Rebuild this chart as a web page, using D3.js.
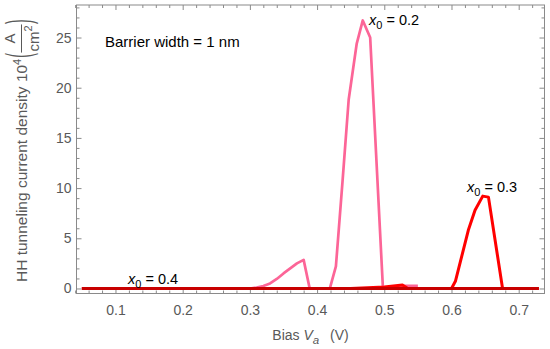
<!DOCTYPE html>
<html>
<head>
<meta charset="utf-8">
<script src="https://cdn.jsdelivr.net/npm/d3@7"></script>
<style>
	body { margin: 0; background: #fff; }
	svg { font-family: 'Liberation Sans', Arial, sans-serif; }
</style>
</head>
<body>
<div id="chart"></div>
<script>
// x0 = 0.2 (pink)
const biasX02 = [0.05, 0.30, 0.31, 0.32, 0.33, 0.34, 0.35, 0.36, 0.37, 0.38, 0.389, 0.419, 0.428, 0.438, 0.447, 0.459, 0.468, 0.479, 0.498, 0.52, 0.53, 0.55]
const currentX02 = [0, 0, 0.1, 0.25, 0.5, 0.95, 1.5, 2.0, 2.5, 2.85, 0, 0, 2.2, 10.8, 18.8, 24.4, 26.7, 25.0, 0, 0.1, 0.25, 0.25]

// x0 = 0.3 (red)
const biasX03 = [0.05, 0.45, 0.50, 0.527, 0.535, 0.60, 0.606, 0.625, 0.635, 0.6465, 0.655, 0.676, 0.73]
const currentX03 = [0, 0, 0.15, 0.35, 0, 0, 0.75, 5.8, 7.8, 9.2, 9.1, 0, 0]

// x0 = 0.4 (dark red)
const biasX04 = [0.05, 0.2, 0.4, 0.6, 0.73]
const currentX04 = [0, 0, 0, 0, 0]

const xTicks = [0.1, 0.2, 0.3, 0.4, 0.5, 0.6, 0.7]
const yTicks = [0, 5, 10, 15, 20, 25]

const series = [
	{ name: '0.2', bias: biasX02, current: currentX02, color: '#fc6597', width: 2.7, label: [369, 25] },
	{ name: '0.3', bias: biasX03, current: currentX03, color: '#ff0000', width: 3, label: [467, 192] },
	{ name: '0.4', bias: biasX04, current: currentX04, color: '#c80000', width: 3, label: [128, 284] },
]

const width = 550
const height = 349
const frame = { left: 76.5, right: 544.5, top: 5, bottom: 293.5 }
const frameColor = '#8a8a8a'
const labelColor = '#595959'

const x = d3.scaleLinear().domain([0.042, 0.7384]).range([frame.left, frame.right])
const y = d3.scaleLinear().domain([-0.5, 28.24]).range([frame.bottom, frame.top])

const xMinor = d3.range(0.04, 0.74, 0.02).filter(v => xTicks.every(t => Math.abs(t - v) > 1e-6))
const yMinor = d3.range(1, 29, 1).filter(v => v % 5 !== 0)

const svg = d3.select('#chart')
	.append('svg')
	.attr('width', width)
	.attr('height', height)

// frame ticks, inward, all four sides
function drawAxis(axis, transform, cls) {
	const g = svg.append('g')
		.attr('class', cls)
		.attr('transform', transform)
		.call(axis)
	g.select('.domain').remove()
	g.selectAll('.tick line').attr('stroke', frameColor)
	g.selectAll('.tick text').attr('fill', labelColor).style('font-size', '14px')
	return g
}

drawAxis(d3.axisBottom(x).tickValues(xTicks).tickSize(-5).tickPadding(11.5).tickFormat(d3.format('.1f')),
	`translate(0,${frame.bottom})`, 'x-axis')
drawAxis(d3.axisBottom(x).tickValues(xMinor).tickSize(-3).tickFormat(''),
	`translate(0,${frame.bottom})`, 'x-minor')
drawAxis(d3.axisTop(x).tickValues(xTicks).tickSize(-5).tickFormat(''),
	`translate(0,${frame.top})`, 'x-top')
drawAxis(d3.axisTop(x).tickValues(xMinor).tickSize(-3).tickFormat(''),
	`translate(0,${frame.top})`, 'x-top-minor')

drawAxis(d3.axisLeft(y).tickValues(yTicks).tickSize(-5).tickPadding(5),
	`translate(${frame.left},0)`, 'y-axis')
drawAxis(d3.axisLeft(y).tickValues(yMinor).tickSize(-3).tickFormat(''),
	`translate(${frame.left},0)`, 'y-minor')
drawAxis(d3.axisRight(y).tickValues(yTicks).tickSize(-5).tickFormat(''),
	`translate(${frame.right},0)`, 'y-right')
drawAxis(d3.axisRight(y).tickValues(yMinor).tickSize(-3).tickFormat(''),
	`translate(${frame.right},0)`, 'y-right-minor')

svg.append('rect')
	.attr('x', frame.left)
	.attr('y', frame.top)
	.attr('width', frame.right - frame.left)
	.attr('height', frame.bottom - frame.top)
	.attr('fill', 'none')
	.attr('stroke', frameColor)

// curves
const line = d3.line()
	.x(d => x(d[0]))
	.y(d => y(d[1]))

svg.append('g')
	.attr('class', 'curves')
	.selectAll('path')
	.data(series)
	.join('path')
	.attr('d', d => line(d.bias.map((b, i) => [b, d.current[i]])))
	.attr('fill', 'none')
	.attr('stroke', d => d.color)
	.attr('stroke-width', d => d.width)
	.attr('stroke-linejoin', 'round')

// curve labels
series.forEach(s => {
	const t = svg.append('text')
		.attr('x', s.label[0])
		.attr('y', s.label[1])
		.attr('fill', '#000')
		.style('font-size', '14.5px')
	t.append('tspan').style('font-style', 'italic').text('x')
	t.append('tspan').attr('dy', 4).style('font-size', '11px').text('0')
	t.append('tspan').attr('dy', -4).text(' = ' + s.name)
})

svg.append('text')
	.attr('x', 105)
	.attr('y', 47)
	.attr('fill', '#000')
	.style('font-size', '15px')
	.text('Barrier width = 1 nm')

// x label
const xl = svg.append('text')
	.attr('x', (frame.left + frame.right) / 2)
	.attr('y', 340)
	.attr('text-anchor', 'middle')
	.attr('fill', labelColor)
	.style('font-size', '14px')
xl.append('tspan').text('Bias ')
xl.append('tspan').style('font-style', 'italic').text('V')
xl.append('tspan').attr('dy', 4).style('font-style', 'italic').style('font-size', '11.5px').text('a')
xl.append('tspan').attr('dy', -4).attr('dx', 3).text('\u00a0\u00a0(V)')

// y label, rotated, with fraction
const yl = svg.append('g')
	.attr('transform', 'translate(27,282) rotate(-90)')
	.attr('fill', labelColor)

const main = yl.append('text')
	.style('font-size', '15.5px')
main.append('tspan').text('HH tunneling current density 10')
main.append('tspan').attr('dy', -6.5).style('font-size', '11px').text('4')
let pos = main.node().getComputedTextLength() + 1

const paren = (txt, at) => yl.append('text')
	.attr('transform', `translate(${at},3.6) scale(1,2.5)`)
	.style('font-size', '14px')
	.text(txt)

const open = paren('(', pos)
pos += open.node().getComputedTextLength() + 0.5

const num = yl.append('text').style('font-size', '15px').text('A')
const den = yl.append('text').style('font-size', '15px')
den.append('tspan').text('cm')
den.append('tspan').attr('dy', -6.5).style('font-size', '11px').text('2')
const fracW = Math.max(num.node().getComputedTextLength(), den.node().getComputedTextLength()) + 2

num.attr('x', pos + fracW / 2).attr('y', -12).attr('text-anchor', 'middle')
den.attr('x', pos + fracW / 2).attr('y', 11.5).attr('text-anchor', 'middle')
yl.append('line')
	.attr('x1', pos).attr('x2', pos + fracW)
	.attr('y1', -5.5).attr('y2', -5.5)
	.attr('stroke', labelColor)
	.attr('stroke-width', 1)
pos += fracW + 0.5
paren(')', pos)
</script>
</body>
</html>
